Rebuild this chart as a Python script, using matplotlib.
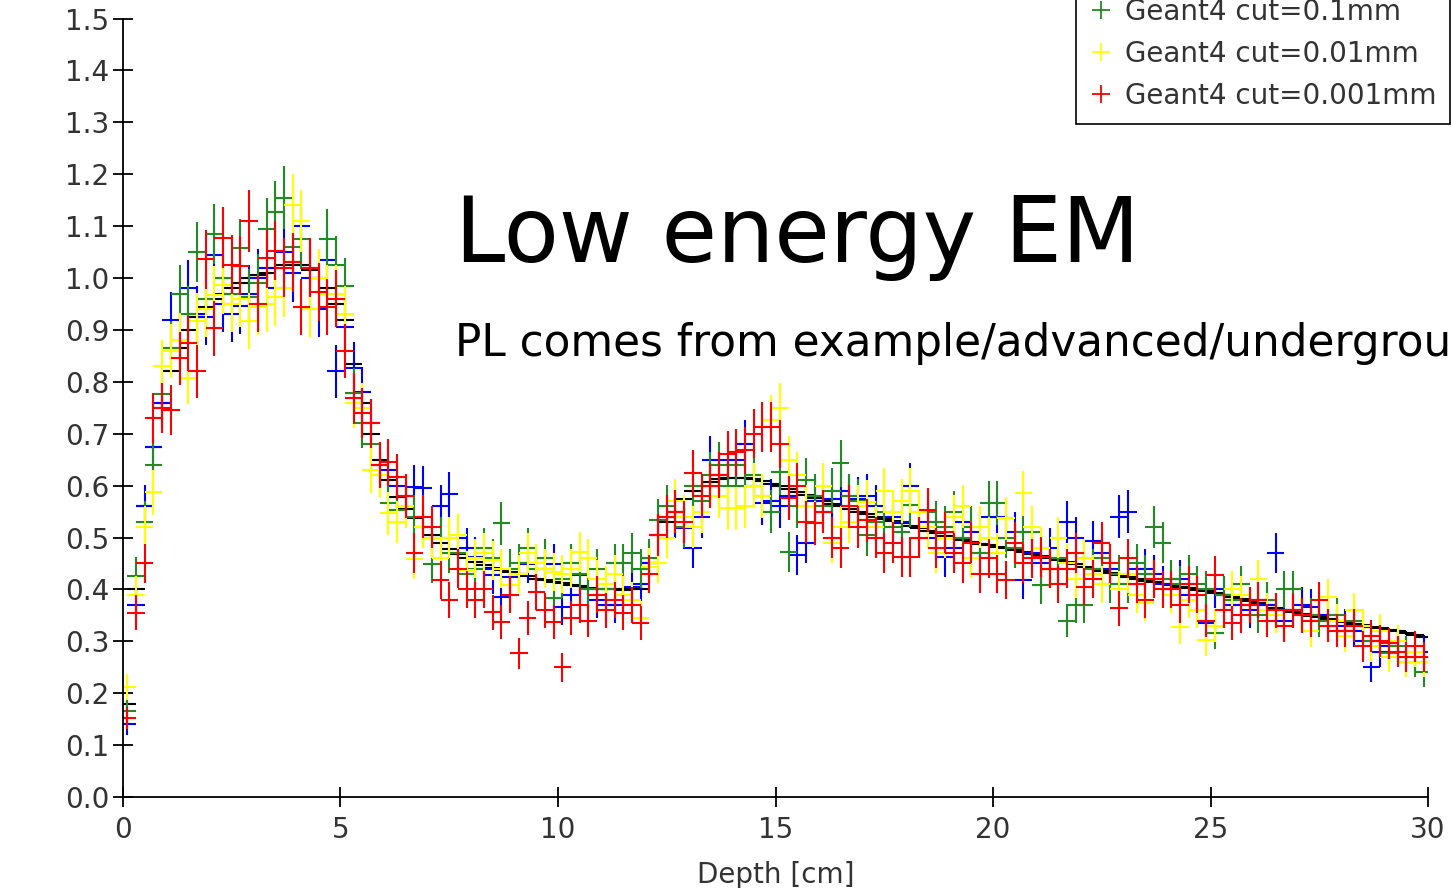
import numpy as np
import matplotlib
matplotlib.use("Agg")
import matplotlib.pyplot as plt
from matplotlib.lines import Line2D

plt.rcParams.update({"font.size": 20, "font.family": "DejaVu Sans"})

# ====================== data (depth bins of 0.2 cm) ======================
bin_width = 0.2
n_bins = 150

black = [
    0.18, 0.40, 0.56, 0.675, 0.76, 0.82, 0.865, 0.90, 0.925, 0.945,
    0.96, 0.97, 0.98, 0.99, 1.00, 1.005, 1.01, 1.02, 1.025, 1.03,
    1.025, 1.015, 1.00, 0.98, 0.95, 0.92, 0.835, 0.76, 0.70, 0.65,
    0.61, 0.578, 0.555, 0.537, 0.52, 0.505, 0.49, 0.478, 0.468, 0.46,
    0.453, 0.447, 0.442, 0.437, 0.433, 0.429, 0.425, 0.421, 0.418, 0.415,
    0.412, 0.409, 0.406, 0.403, 0.401, 0.40, 0.40, 0.399, 0.40, 0.40,
    0.45, 0.505, 0.53, 0.55, 0.575, 0.59, 0.60, 0.607, 0.612, 0.615,
    0.615, 0.614, 0.612, 0.608, 0.604, 0.599, 0.594, 0.588, 0.582, 0.576,
    0.57, 0.565, 0.56, 0.555, 0.55, 0.545, 0.54, 0.536, 0.532, 0.527,
    0.523, 0.518, 0.513, 0.508, 0.503, 0.499, 0.495, 0.491, 0.488, 0.485,
    0.482, 0.479, 0.476, 0.472, 0.468, 0.464, 0.46, 0.456, 0.452, 0.448,
    0.444, 0.44, 0.436, 0.432, 0.428, 0.424, 0.42, 0.417, 0.414, 0.411,
    0.408, 0.405, 0.402, 0.399, 0.396, 0.393, 0.389, 0.385, 0.381, 0.377,
    0.373, 0.369, 0.365, 0.361, 0.357, 0.353, 0.349, 0.346, 0.343, 0.34,
    0.337, 0.334, 0.331, 0.328, 0.325, 0.322, 0.319, 0.316, 0.312, 0.308,
]

blue = [
    0.14, 0.37, 0.56, 0.675, 0.76, 0.92, 0.88, 0.98, 0.93, 0.925,
    1.045, 0.95, 0.93, 0.947, 0.97, 1.00, 1.02, 0.98, 1.05, 1.01,
    1.10, 1.00, 0.94, 1.035, 0.82, 0.905, 0.826, 0.78, 0.72, 0.64,
    0.63, 0.60, 0.56, 0.597, 0.595, 0.50, 0.56, 0.583, 0.50, 0.48,
    0.462, 0.44, 0.427, 0.385, 0.424, 0.43, 0.449, 0.45, 0.44, 0.449,
    0.366, 0.39, 0.427, 0.40, 0.38, 0.37, 0.37, 0.39, 0.405, 0.41,
    0.45, 0.505, 0.54, 0.54, 0.518, 0.48, 0.54, 0.65, 0.62, 0.65,
    0.65, 0.68, 0.60, 0.566, 0.57, 0.56, 0.58, 0.466, 0.49, 0.57,
    0.55, 0.575, 0.59, 0.58, 0.575, 0.58, 0.56, 0.52, 0.54, 0.53,
    0.60, 0.55, 0.53, 0.50, 0.462, 0.48, 0.53, 0.51, 0.47, 0.54,
    0.54, 0.537, 0.51, 0.418, 0.47, 0.45, 0.48, 0.44, 0.53, 0.50,
    0.46, 0.493, 0.47, 0.44, 0.54, 0.55, 0.44, 0.44, 0.43, 0.41,
    0.42, 0.42, 0.39, 0.36, 0.335, 0.40, 0.39, 0.37, 0.37, 0.36,
    0.38, 0.37, 0.47, 0.34, 0.36, 0.37, 0.366, 0.35, 0.35, 0.33,
    0.33, 0.32, 0.30, 0.25, 0.28, 0.29, 0.30, 0.26, 0.27, 0.28,
]

green = [
    0.165, 0.425, 0.53, 0.64, 0.777, 0.866, 0.97, 0.93, 1.05, 0.96,
    1.085, 1.00, 0.97, 1.057, 0.963, 0.99, 1.095, 1.127, 1.155, 1.06,
    1.075, 1.02, 1.00, 1.075, 1.025, 0.984, 0.778, 0.72, 0.68, 0.62,
    0.566, 0.553, 0.58, 0.54, 0.52, 0.449, 0.50, 0.47, 0.47, 0.43,
    0.44, 0.48, 0.46, 0.527, 0.44, 0.45, 0.48, 0.44, 0.46, 0.383,
    0.42, 0.45, 0.43, 0.40, 0.44, 0.40, 0.45, 0.45, 0.47, 0.44,
    0.46, 0.533, 0.56, 0.55, 0.52, 0.60, 0.57, 0.62, 0.64, 0.60,
    0.64, 0.60, 0.62, 0.58, 0.55, 0.626, 0.472, 0.56, 0.61, 0.58,
    0.56, 0.59, 0.643, 0.58, 0.57, 0.505, 0.53, 0.55, 0.52, 0.51,
    0.562, 0.50, 0.55, 0.53, 0.52, 0.549, 0.50, 0.52, 0.47, 0.566,
    0.566, 0.50, 0.48, 0.51, 0.51, 0.408, 0.44, 0.46, 0.34, 0.37,
    0.37, 0.44, 0.46, 0.41, 0.43, 0.41, 0.45, 0.43, 0.52, 0.49,
    0.42, 0.41, 0.43, 0.41, 0.40, 0.316, 0.39, 0.38, 0.41, 0.37,
    0.35, 0.38, 0.36, 0.40, 0.40, 0.35, 0.35, 0.34, 0.34, 0.35,
    0.32, 0.34, 0.33, 0.30, 0.30, 0.277, 0.29, 0.28, 0.26, 0.24,
]

yellow = [
    0.212, 0.39, 0.52, 0.587, 0.83, 0.86, 0.88, 0.807, 0.917, 0.94,
    0.968, 0.986, 0.95, 0.96, 0.917, 0.944, 0.95, 0.963, 0.98, 1.14,
    1.11, 0.94, 1.00, 0.97, 0.97, 0.93, 0.76, 0.75, 0.63, 0.62,
    0.547, 0.53, 0.56, 0.458, 0.52, 0.50, 0.46, 0.50, 0.505, 0.437,
    0.46, 0.47, 0.456, 0.44, 0.408, 0.43, 0.47, 0.45, 0.44, 0.433,
    0.43, 0.44, 0.472, 0.46, 0.42, 0.41, 0.43, 0.39, 0.38, 0.345,
    0.443, 0.45, 0.50, 0.57, 0.54, 0.52, 0.55, 0.60, 0.58, 0.556,
    0.556, 0.56, 0.60, 0.58, 0.726, 0.75, 0.65, 0.62, 0.56, 0.53,
    0.60, 0.49, 0.52, 0.53, 0.56, 0.568, 0.52, 0.59, 0.55, 0.57,
    0.59, 0.55, 0.52, 0.47, 0.50, 0.54, 0.56, 0.46, 0.52, 0.50,
    0.47, 0.537, 0.49, 0.585, 0.52, 0.48, 0.44, 0.50, 0.45, 0.42,
    0.46, 0.43, 0.41, 0.45, 0.40, 0.43, 0.39, 0.374, 0.42, 0.40,
    0.39, 0.327, 0.38, 0.36, 0.302, 0.33, 0.36, 0.40, 0.39, 0.37,
    0.42, 0.36, 0.35, 0.33, 0.36, 0.35, 0.32, 0.38, 0.385, 0.34,
    0.31, 0.36, 0.33, 0.29, 0.32, 0.27, 0.30, 0.26, 0.28, 0.26,
]

red = [
    0.152, 0.355, 0.45, 0.73, 0.75, 0.745, 0.845, 0.874, 0.82, 1.036,
    0.903, 1.078, 1.026, 1.024, 1.11, 0.95, 1.038, 1.053, 1.02, 1.03,
    0.944, 1.02, 0.973, 0.944, 0.96, 0.86, 0.768, 0.74, 0.72, 0.64,
    0.645, 0.616, 0.58, 0.47, 0.54, 0.52, 0.418, 0.38, 0.44, 0.40,
    0.38, 0.40, 0.356, 0.337, 0.39, 0.277, 0.345, 0.395, 0.36, 0.337,
    0.25, 0.345, 0.37, 0.34, 0.39, 0.36, 0.38, 0.355, 0.37, 0.335,
    0.43, 0.505, 0.54, 0.55, 0.53, 0.624, 0.58, 0.60, 0.62, 0.66,
    0.664, 0.668, 0.70, 0.713, 0.713, 0.68, 0.576, 0.60, 0.53, 0.527,
    0.55, 0.50, 0.48, 0.56, 0.52, 0.533, 0.50, 0.47, 0.49, 0.462,
    0.462, 0.50, 0.553, 0.48, 0.51, 0.47, 0.45, 0.49, 0.43, 0.46,
    0.43, 0.418, 0.49, 0.45, 0.46, 0.462, 0.44, 0.41, 0.44, 0.47,
    0.405, 0.42, 0.49, 0.45, 0.364, 0.46, 0.41, 0.38, 0.42, 0.40,
    0.40, 0.37, 0.41, 0.39, 0.34, 0.427, 0.36, 0.335, 0.35, 0.37,
    0.38, 0.34, 0.36, 0.33, 0.36, 0.35, 0.34, 0.38, 0.33, 0.32,
    0.32, 0.33, 0.29, 0.31, 0.30, 0.296, 0.28, 0.27, 0.29, 0.27,
]

labels = ["Geant4 cut=10mm", "Geant4 cut=1mm", "Geant4 cut=0.1mm",
          "Geant4 cut=0.01mm", "Geant4 cut=0.001mm"]
colours = ["black", "#0000ff", "#228b22", "#ffff00", "#ff0000"]
series = [black, blue, green, yellow, red]

# ============================== plot =====================================
depth = (np.arange(n_bins) + 0.5) * bin_width

fig = plt.figure(figsize=(14.52, 8.88), dpi=100)
ax = fig.add_axes([0.0847, 0.1025, 0.8988, 0.8766])

for vals, col in zip(series, colours):
    vals = np.array(vals)
    if col == "black":
        err = np.full(n_bins, 0.004)
    else:
        err = 0.056 * np.sqrt(vals)   # statistical-like error bars
    ax.errorbar(depth, vals, xerr=bin_width, yerr=err, fmt="none",
                ecolor=col, elinewidth=1.5, capsize=0)

ax.set_xlim(0, 30)
ax.set_ylim(0, 1.5)
ax.set_xticks(range(0, 31, 5))
ax.set_yticks(np.arange(0, 1.51, 0.1))
ax.set_yticklabels(["%.1f" % v for v in np.arange(0, 1.51, 0.1)])
ax.spines["top"].set_visible(False)
ax.spines["right"].set_visible(False)
for s in ["left", "bottom"]:
    ax.spines[s].set_linewidth(1.3)
ax.tick_params(direction="inout", length=14, width=1.3, colors="black",
               labelcolor="#333333", labelsize=20)
ax.tick_params(axis="y", pad=3)
ax.tick_params(axis="x", pad=7)
ax.set_xlabel("Depth [cm]", color="#333333", fontsize=20, labelpad=12)

legend_elements = [Line2D([0], [0], marker="+", linestyle="none", color=c,
                          markersize=13, markeredgewidth=1.3, label=l)
                   for c, l in zip(colours, labels)]
leg = ax.legend(handles=legend_elements, loc="lower right",
                bbox_to_anchor=(0.9986, 0.8604), bbox_transform=fig.transFigure,
                borderaxespad=0, fancybox=False, framealpha=1, edgecolor="black",
                fontsize=20, labelspacing=0.51, handlelength=0.8,
                handletextpad=0.45, borderpad=0.5)
leg.get_frame().set_linewidth(1.2)
for t in leg.get_texts():
    t.set_color("#333333")

fig.text(455 / 1452, 1 - 262 / 888, "Low energy EM", fontsize=65,
         color="black", va="baseline", ha="left")
fig.text(455 / 1452, 1 - 356 / 888,
         "PL comes from example/advanced/underground_physics", fontsize=31.5,
         color="black", va="baseline", ha="left")

fig.savefig("out.png", dpi=100)
